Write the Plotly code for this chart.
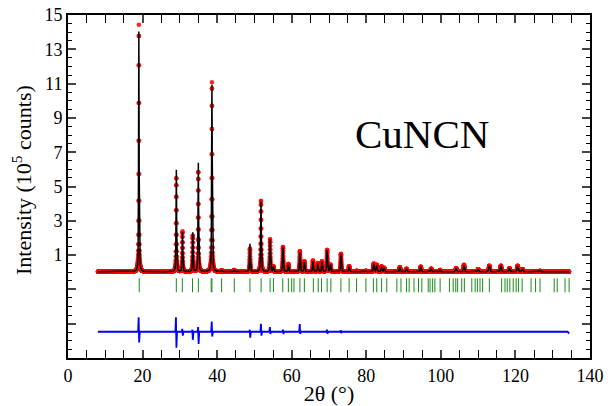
import numpy as np
import plotly.graph_objects as go

# ---- data ----
# reflections of the pattern: position (deg 2theta), calculated / observed peak heights (1e5 counts)
peak_pos = [19.0, 29.05, 30.7, 33.45, 34.95, 38.6, 41.2, 44.6, 48.8, 51.75, 54.2, 55.1,
            57.65, 59.1, 62.2, 63.4, 65.7, 67.0, 68.1, 69.5, 70.4, 73.2, 75.4, 77.4,
            79.9, 82.0, 82.8, 84.1, 84.8, 89.0, 90.8, 94.6, 97.4, 99.8, 104.1, 106.2,
            110.0, 113.0, 116.1, 118.4, 120.6, 121.9, 126.6]
calc_h = [14.0, 6.0, 2.3, 2.3, 6.4, 10.9, 0.08, 0.1, 1.63, 4.1, 1.88, 0.3,
          1.43, 0.41, 1.15, 0.57, 0.62, 0.47, 0.58, 1.25, 0.4, 1.02, 0.3, 0.05,
          0.05, 0.45, 0.38, 0.28, 0.22, 0.27, 0.17, 0.3, 0.18, 0.1, 0.2, 0.38,
          0.15, 0.35, 0.35, 0.2, 0.35, 0.15, 0.05]
obs_h = [14.4, 5.5, 2.35, 2.1, 5.85, 11.05, 0.08, 0.1, 1.35, 4.15, 1.9, 0.3,
         1.45, 0.45, 1.2, 0.6, 0.65, 0.5, 0.6, 1.27, 0.4, 1.04, 0.32, 0.05,
         0.05, 0.47, 0.4, 0.3, 0.22, 0.27, 0.17, 0.3, 0.18, 0.1, 0.2, 0.4,
         0.15, 0.35, 0.35, 0.2, 0.35, 0.15, 0.05]
background = 0.03
scan_start, scan_end, scan_step = 8.0, 134.4, 0.02

# Bragg reflection markers (deg 2theta)
bragg_pos = [19.1, 29.05, 30.66, 33.4, 34.96, 38.4, 38.6, 41.2, 44.6, 48.8, 51.8, 54.2,
             55.1, 57.6, 59.1, 60.0, 60.6, 62.2, 63.4, 65.8, 67.1, 68.0, 69.5, 70.5,
             73.2, 75.4, 77.4, 79.9, 81.9, 82.8, 84.1, 85.5, 88.2, 89.3, 90.8, 91.5,
             92.8, 94.0, 94.9, 96.6, 97.1, 97.8, 98.4, 99.8, 102.3, 103.3, 104.0,
             104.5, 105.6, 106.3, 108.3, 109.2, 109.8, 110.5, 111.2, 113.0, 116.3,
             117.2, 117.8, 118.5, 119.4, 120.2, 120.8, 121.8, 124.2, 125.4, 126.6,
             130.4, 131.2, 133.3, 134.4]
bragg_level = -0.76

# difference curve: baseline and spikes (position, max, min)
diff_base = -3.47
diff_pos = [19.0, 29.0, 30.7, 33.4, 34.95, 38.6, 48.8, 51.8, 54.2, 57.7, 62.2, 69.5, 73.2]
diff_up = [-2.62, -2.62, -3.3, -3.35, -3.2, -2.88, -3.35, -3.0, -3.2, -3.35, -3.02, -3.35, -3.38]
diff_down = [-4.1, -4.4, -3.7, -3.94, -4.18, -3.75, -3.82, -3.7, -3.6, -3.6, -3.6, -3.58, -3.55]
diff_end = -3.58

x_ticks = [0, 20, 40, 60, 80, 100, 120, 140]
y_label_vals = [1, 3, 5, 7, 9, 11, 13, 15]
y_label_text = ['1', '3', '5', '7', '9', '11', '13', '15']
y_unlabelled_vals = [-5, -3, -1]

# ---- build the profiles ----
tt = np.arange(scan_start, scan_end + 1e-9, scan_step)


def profile(heights):
    y = np.full_like(tt, background)
    for p, h in zip(peak_pos, heights):
        fw = 0.14 + 0.0015 * p
        g = np.exp(-4 * np.log(2) * ((tt - p) / fw) ** 2)
        l = 1.0 / (1 + 4 * ((tt - p) / fw) ** 2)
        y += h * (0.5 * g + 0.5 * l)
    return y


y_calc = profile(calc_h)
y_obs = profile(obs_h)

dx = [scan_start]
dy = [diff_base]
for p, u, d in zip(diff_pos, diff_up, diff_down):
    dx += [p - 0.2, p - 0.05, p + 0.08, p + 0.25]
    dy += [diff_base, u, d, diff_base]
dx += [scan_end - 0.4, scan_end]
dy += [diff_base, diff_end]

fig = go.Figure()
fig.add_trace(go.Scatter(x=tt, y=y_obs, mode='markers',
                         marker=dict(symbol='circle', size=4.5, color='red',
                                     opacity=0.85, line=dict(width=0)),
                         hoverinfo='skip', showlegend=False))
fig.add_trace(go.Scatter(x=tt, y=y_calc, mode='lines',
                         line=dict(color='black', width=1.5), showlegend=False))
fig.add_trace(go.Scatter(x=bragg_pos, y=[bragg_level] * len(bragg_pos), mode='markers',
                         marker=dict(symbol='line-ns', size=10, color='#1a8c1a',
                                     line=dict(width=1, color='#1a8c1a')),
                         showlegend=False))
fig.add_trace(go.Scatter(x=dx, y=dy, mode='lines', yaxis='y2',
                         line=dict(color='#0000ff', width=1.8), showlegend=False))

font = 'Liberation Serif'
common = dict(ticks='inside', ticklen=8, tickwidth=1.5, mirror='allticks',
              showline=True, linewidth=2, linecolor='black', showgrid=False,
              zeroline=False, automargin=False)
fig.update_layout(
    width=608, height=406,
    margin=dict(l=68, r=18, t=15, b=48),
    paper_bgcolor='white', plot_bgcolor='white',
    font=dict(family=font, size=18, color='black'),
    xaxis=dict(range=[0, 140], tickmode='array', tickvals=x_ticks,
               minor=dict(tickmode='linear', tick0=0, dtick=5, ticks='inside',
                          ticklen=4, tickwidth=1.2, tickcolor='black'),
               title=dict(text='2θ (°)', font=dict(family=font, size=22), standoff=5),
               **common),
    yaxis=dict(range=[-5, 15], tickmode='array', tickvals=y_label_vals,
               ticktext=y_label_text,
               minor=dict(tickmode='linear', tick0=0, dtick=0.5, ticks='inside',
                          ticklen=4, tickwidth=1.2, tickcolor='black'),
               **common),
    yaxis2=dict(range=[-5, 15], overlaying='y', side='left', tickmode='array',
                tickvals=y_unlabelled_vals, showticklabels=False, **common),
    annotations=[
        dict(text='Intensity (10<sup>5</sup> counts)', xref='paper', yref='paper',
             x=(22 - 68) / 522, y=(358 - 180) / 343, textangle=-90, showarrow=False,
             xanchor='center', yanchor='middle', font=dict(family=font, size=22)),
        dict(text='CuNCN', x=95, y=8.05, xref='x', yref='y', showarrow=False,
             font=dict(family=font, size=41), xanchor='center', yanchor='middle'),
    ],
)

fig.write_html('out.html', config={'displayModeBar': False},
               post_script="document.body.style.margin='0';"
                           "document.body.style.overflow='hidden';")
